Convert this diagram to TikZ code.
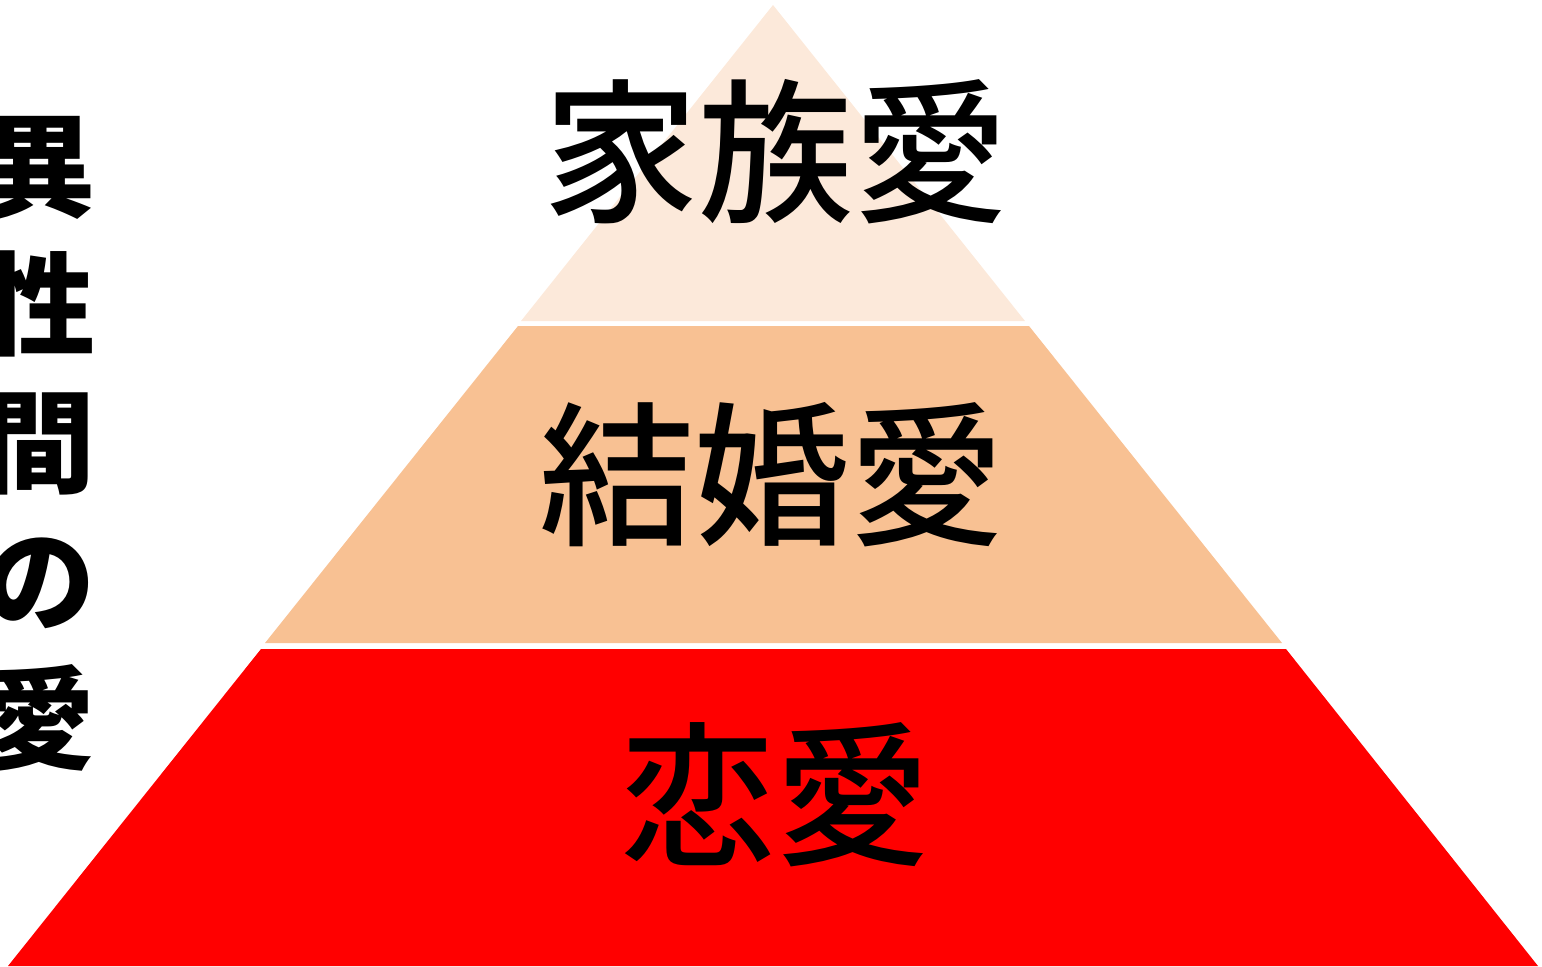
\documentclass[tikz,border=0pt]{standalone}
\usepackage{fontspec}
\newfontfamily\cjk{Noto Sans CJK JP Medium}
\newfontfamily\cjkheavy{Noto Sans CJK JP}
\definecolor{toplayer}{RGB}{252,233,218}
\definecolor{midlayer}{RGB}{248,193,147}
\definecolor{lowlayer}{RGB}{255,0,0}
\tikzset{
  layerlabel/.style={inner sep=0pt,font=\cjk\fontsize{155bp}{160bp}\selectfont},
  sidelabel/.style={inner sep=0pt,align=center,font=\cjkheavy\bfseries\fontsize{112bp}{138bp}\selectfont}
}
\begin{document}
\begin{tikzpicture}[x=1bp,y=-1bp]
        \useasboundingbox (0,0) rectangle (1542,966);
        % pyramid layers
        \fill[toplayer] (773,5) -- (1025,321) -- (521,321) -- cycle;
        \fill[midlayer] (518,326) -- (1029,326) -- (1282,643) -- (265,643) -- cycle;
        \fill[lowlayer] (261,649) -- (1286,649) -- (1538,966) -- (8,966) -- cycle;

        % labels
        \node[layerlabel] (family) at (776,152) {家族愛};
        \node[layerlabel] (marriage) at (772,475) {結婚愛};
        \node[layerlabel] (romance) at (775,795) {恋愛};
        \node[sidelabel] (side) at (40,444) {異\\性\\間\\の\\愛};
\end{tikzpicture}
\end{document}
